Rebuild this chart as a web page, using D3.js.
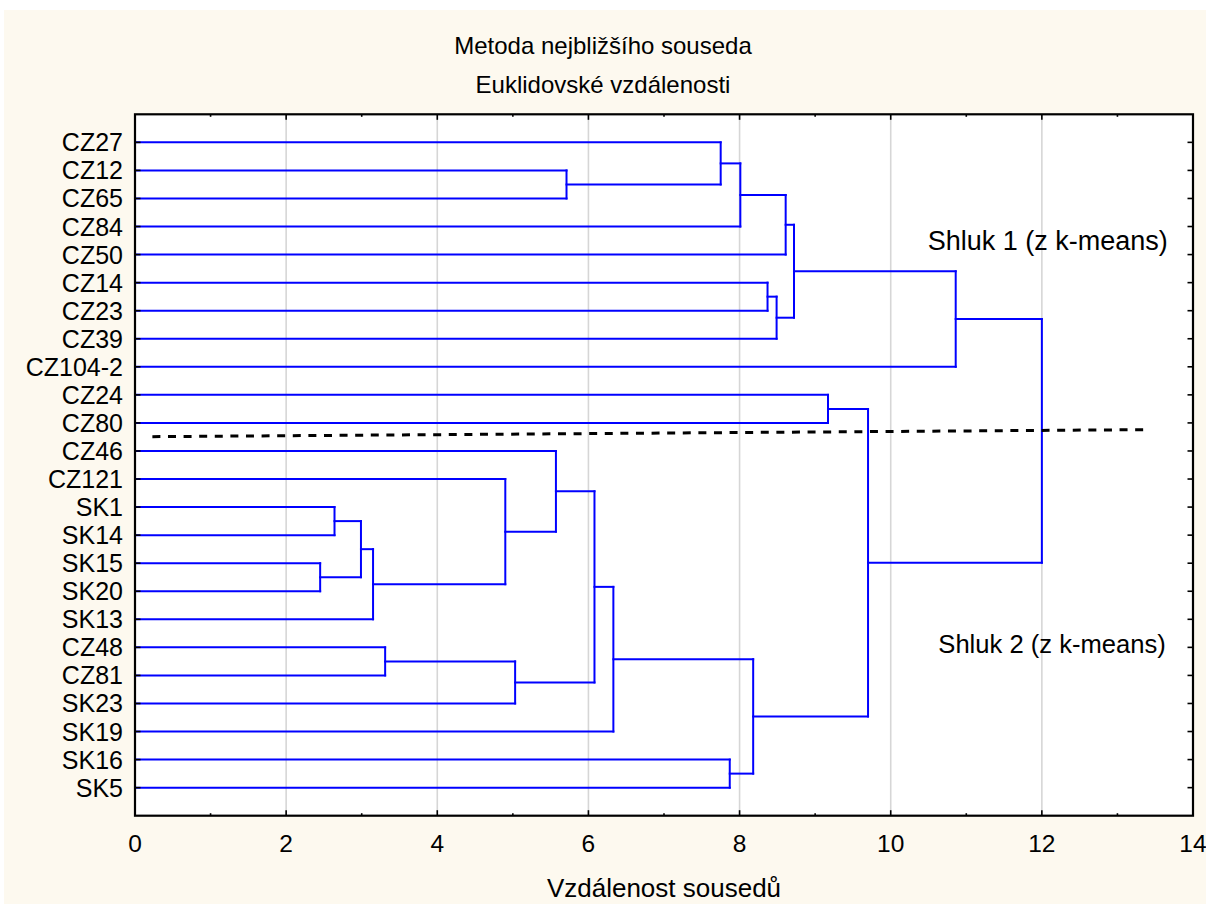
<!DOCTYPE html>
<html>
<head>
<meta charset="utf-8">
<script src="https://cdn.jsdelivr.net/npm/d3@7/dist/d3.min.js"></script>
<style>
  html, body { margin: 0; padding: 0; background: #ffffff; }
  svg { display: block; }
  text { font-family: Arial, "Liberation Sans", sans-serif; fill: #000; }
</style>
</head>
<body>
<svg id="chart" width="1206" height="904"></svg>
<script>
// ---- data ----
const titleLines = ["Metoda nejbližšího souseda", "Euklidovské vzdálenosti"];
const xAxisTitle = "Vzdálenost sousedů";
const leaves = ["CZ27","CZ12","CZ65","CZ84","CZ50","CZ14","CZ23","CZ39","CZ104-2","CZ24","CZ80",
  "CZ46","CZ121","SK1","SK14","SK15","SK20","SK13","CZ48","CZ81","SK23","SK19","SK16","SK5"];
// merges: [childA, childB, linkage distance]; "mN" refers to the N-th merge
const merges = [
  ["CZ12","CZ65",5.71],   // m0
  ["CZ27","m0",7.75],     // m1
  ["m1","CZ84",8.01],     // m2
  ["m2","CZ50",8.61],     // m3
  ["CZ14","CZ23",8.37],   // m4
  ["m4","CZ39",8.49],     // m5
  ["m3","m5",8.72],       // m6
  ["m6","CZ104-2",10.86], // m7
  ["CZ24","CZ80",9.17],   // m8
  ["SK1","SK14",2.64],    // m9
  ["SK15","SK20",2.45],   // m10
  ["m9","m10",2.99],      // m11
  ["m11","SK13",3.15],    // m12
  ["CZ121","m12",4.90],   // m13
  ["CZ46","m13",5.57],    // m14
  ["CZ48","CZ81",3.31],   // m15
  ["m15","SK23",5.03],    // m16
  ["m14","m16",6.08],     // m17
  ["m17","SK19",6.33],    // m18
  ["SK16","SK5",7.87],    // m19
  ["m18","m19",8.18],     // m20
  ["m8","m20",9.70],      // m21
  ["m7","m21",12.00]      // m22
];
const xMajorTicks = [0,2,4,6,8,10,12,14];
const xMinorTicks = [1,3,5,7,9,11,13];
const xGrid = [2,4,6,8,10,12];
// cut line (x in distance units, y in row-index units)
const cutLine = [[0.23, 10.49], [13.39, 10.24]];
const annotations = [
  {text: "Shluk 1 (z k-means)", x: 10.49, row: 3.85, size: 27},
  {text: "Shluk 2 (z k-means)", x: 10.63, row: 18.2, size: 25.6}
];

// ---- layout ----
const svg = d3.select("#chart");
const W = 1206, H = 904;
const L = 135, R = 1193, T = 114.3, B = 815.7;

svg.append("rect").attr("x", 4).attr("y", 10).attr("width", W - 4).attr("height", H - 10)
  .attr("fill", "#fdf9ef");
svg.append("rect").attr("x", L).attr("y", T).attr("width", R - L).attr("height", B - T)
  .attr("fill", "#ffffff");

const x = d3.scaleLinear().domain([0, 14]).range([L, R]);
const y = d3.scaleLinear().domain([-1, leaves.length]).range([T, B]);

// grid
svg.append("g").selectAll("line").data(xGrid).join("line")
  .attr("x1", d => x(d)).attr("x2", d => x(d)).attr("y1", T).attr("y2", B)
  .attr("stroke", "#d6d6d6").attr("stroke-width", 1.6);

// dendrogram node positions
const pos = {};
leaves.forEach((n, i) => { pos[n] = {h: 0, r: i}; });
merges.forEach((m, i) => {
  const a = pos[m[0]], b = pos[m[1]];
  pos["m" + i] = {h: m[2], r: (a.r + b.r) / 2, a, b};
});
const segs = [];
merges.forEach((m, i) => {
  const p = pos["m" + i];
  [p.a, p.b].forEach(c => segs.push([[c.h, c.r], [p.h, c.r]]));
  segs.push([[p.h, p.a.r], [p.h, p.b.r]]);
});
svg.append("g").selectAll("line").data(segs).join("line")
  .attr("x1", d => x(d[0][0])).attr("y1", d => y(d[0][1]))
  .attr("x2", d => x(d[1][0])).attr("y2", d => y(d[1][1]))
  .attr("stroke", "#0000ff").attr("stroke-width", 2).attr("stroke-linecap", "square");

// cut line
svg.append("line")
  .attr("x1", x(cutLine[0][0])).attr("y1", y(cutLine[0][1]))
  .attr("x2", x(cutLine[1][0])).attr("y2", y(cutLine[1][1]))
  .attr("stroke", "#000").attr("stroke-width", 3).attr("stroke-dasharray", "8,7.6");

// axes ticks
function ticks(values, len, yPos, dir) {
  svg.append("g").selectAll("line").data(values).join("line")
    .attr("x1", d => x(d)).attr("x2", d => x(d))
    .attr("y1", yPos).attr("y2", yPos + dir * len)
    .attr("stroke", "#000").attr("stroke-width", 1.6);
}
ticks(xMajorTicks, 5.5, B, -1);
ticks(xMinorTicks, 2.5, B, -1);
ticks(xMajorTicks, 5.5, T, 1);
ticks(xMinorTicks, 2.5, T, 1);
const rows = d3.range(leaves.length);
svg.append("g").selectAll("line").data(rows).join("line")
  .attr("x1", L).attr("x2", L + 5.5).attr("y1", d => y(d)).attr("y2", d => y(d))
  .attr("stroke", "#000").attr("stroke-width", 1.6);
svg.append("g").selectAll("line").data(rows).join("line")
  .attr("x1", R).attr("x2", R - 5.5).attr("y1", d => y(d)).attr("y2", d => y(d))
  .attr("stroke", "#000").attr("stroke-width", 1.6);

// frame
svg.append("rect").attr("x", L).attr("y", T).attr("width", R - L).attr("height", B - T)
  .attr("fill", "none").attr("stroke", "#000").attr("stroke-width", 2.2);

// labels
svg.append("g").selectAll("text").data(leaves).join("text")
  .attr("x", 123).attr("y", (d, i) => y(i) + 9)
  .attr("text-anchor", "end").attr("font-size", 25).text(d => d);

svg.append("g").selectAll("text").data(xMajorTicks).join("text")
  .attr("x", d => x(d)).attr("y", 852)
  .attr("text-anchor", "middle").attr("font-size", 24.5).text(d => d);

svg.append("text").attr("x", (L + R) / 2).attr("y", 897)
  .attr("text-anchor", "middle").attr("font-size", 26).text(xAxisTitle);

svg.append("g").selectAll("text").data(titleLines).join("text")
  .attr("x", 603).attr("y", (d, i) => 54 + i * 38.5)
  .attr("text-anchor", "middle").attr("font-size", 24).text(d => d);

svg.append("g").selectAll("text").data(annotations).join("text")
  .attr("x", d => x(d.x)).attr("y", d => y(d.row))
  .attr("font-size", d => d.size).text(d => d.text);
</script>
</body>
</html>
